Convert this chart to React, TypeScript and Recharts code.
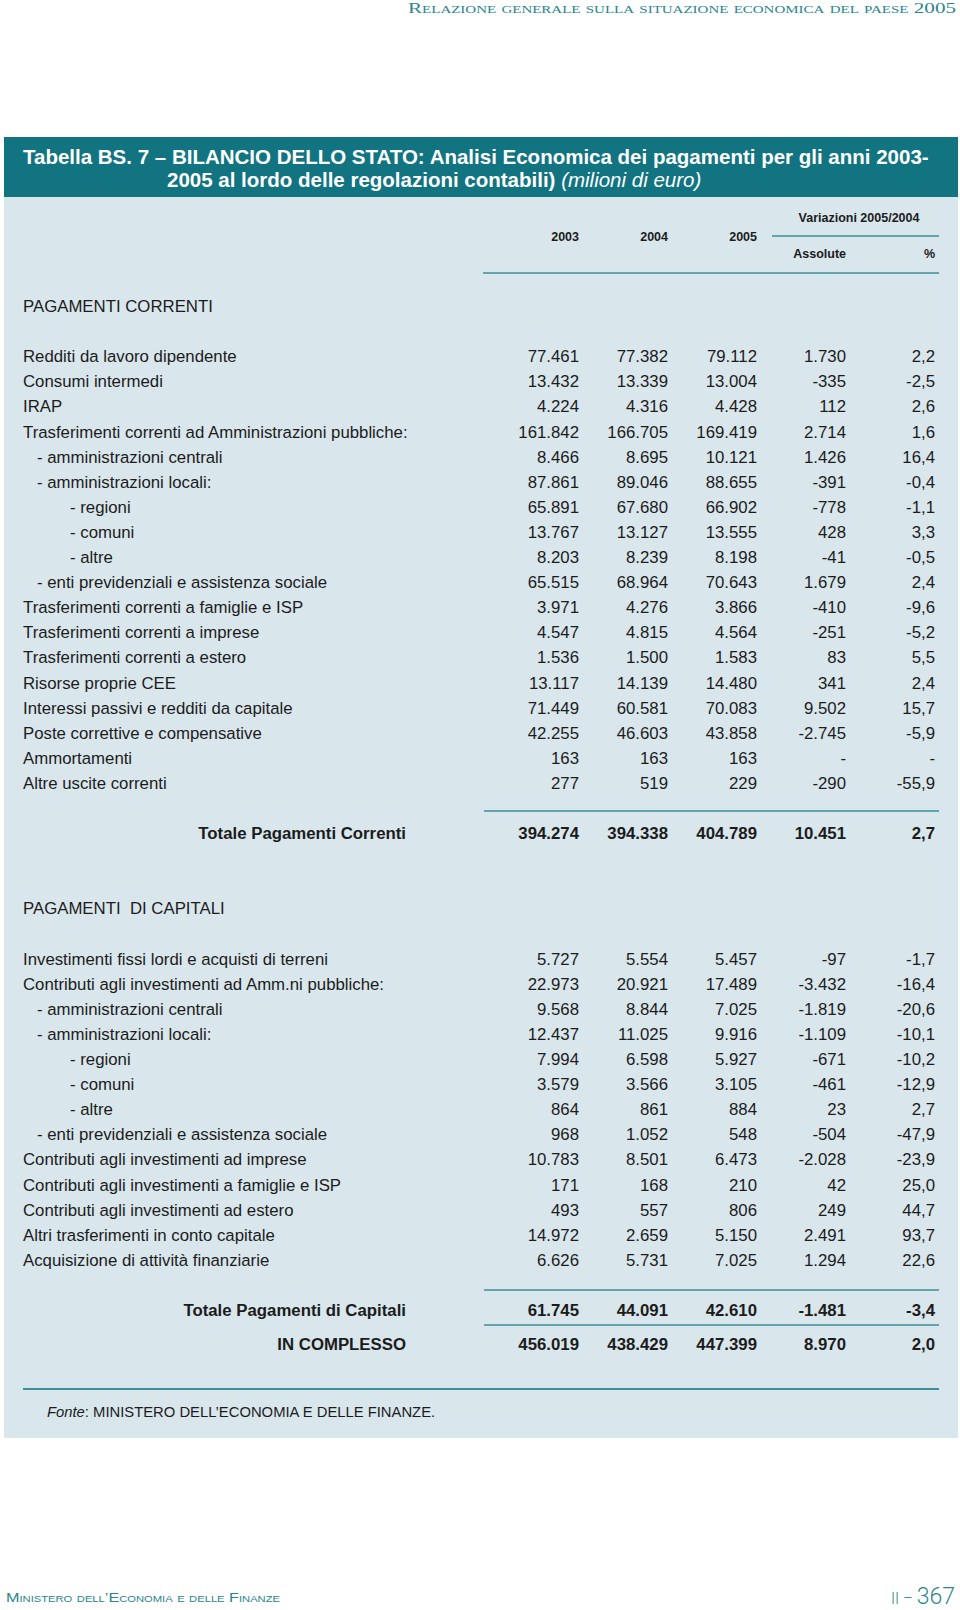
import React from "react";
import { ScatterChart, Scatter, XAxis, YAxis } from "recharts";

// ─── Data ────────────────────────────────────────────────────────────────────

const LABELS = [
  "PAGAMENTI CORRENTI",
  "Redditi da lavoro dipendente",
  "Consumi intermedi",
  "IRAP",
  "Trasferimenti correnti ad Amministrazioni pubbliche:",
  "- amministrazioni centrali",
  "- amministrazioni locali:",
  "- regioni",
  "- comuni",
  "- altre",
  "- enti previdenziali e assistenza sociale",
  "Trasferimenti correnti a famiglie e ISP",
  "Trasferimenti correnti a imprese",
  "Trasferimenti correnti a estero",
  "Risorse proprie CEE",
  "Interessi passivi e redditi da capitale",
  "Poste correttive e compensative",
  "Ammortamenti",
  "Altre uscite correnti",
  "Totale Pagamenti Correnti",
  "PAGAMENTI\u00a0 DI CAPITALI",
  "Investimenti fissi lordi e acquisti di terreni",
  "Contributi agli investimenti ad Amm.ni pubbliche:",
  "- amministrazioni centrali",
  "- amministrazioni locali:",
  "- regioni",
  "- comuni",
  "- altre",
  "- enti previdenziali e assistenza sociale",
  "Contributi agli investimenti ad imprese",
  "Contributi agli investimenti a famiglie e ISP",
  "Contributi agli investimenti ad estero",
  "Altri trasferimenti in conto capitale",
  "Acquisizione di attività finanziarie",
  "Totale Pagamenti di Capitali",
  "IN COMPLESSO",
];

const V2003 = [
  "", "77.461", "13.432", "4.224", "161.842", "8.466", "87.861", "65.891", "13.767", "8.203",
  "65.515", "3.971", "4.547", "1.536", "13.117", "71.449", "42.255", "163", "277", "394.274",
  "", "5.727", "22.973", "9.568", "12.437", "7.994", "3.579", "864", "968", "10.783",
  "171", "493", "14.972", "6.626", "61.745", "456.019",
];

const V2004 = [
  "", "77.382", "13.339", "4.316", "166.705", "8.695", "89.046", "67.680", "13.127", "8.239",
  "68.964", "4.276", "4.815", "1.500", "14.139", "60.581", "46.603", "163", "519", "394.338",
  "", "5.554", "20.921", "8.844", "11.025", "6.598", "3.566", "861", "1.052", "8.501",
  "168", "557", "2.659", "5.731", "44.091", "438.429",
];

const V2005 = [
  "", "79.112", "13.004", "4.428", "169.419", "10.121", "88.655", "66.902", "13.555", "8.198",
  "70.643", "3.866", "4.564", "1.583", "14.480", "70.083", "43.858", "163", "229", "404.789",
  "", "5.457", "17.489", "7.025", "9.916", "5.927", "3.105", "884", "548", "6.473",
  "210", "806", "5.150", "7.025", "42.610", "447.399",
];

const VAR_ABS = [
  "", "1.730", "-335", "112", "2.714", "1.426", "-391", "-778", "428", "-41",
  "1.679", "-410", "-251", "83", "341", "9.502", "-2.745", "-", "-290", "10.451",
  "", "-97", "-3.432", "-1.819", "-1.109", "-671", "-461", "23", "-504", "-2.028",
  "42", "249", "2.491", "1.294", "-1.481", "8.970",
];

const VAR_PCT = [
  "", "2,2", "-2,5", "2,6", "1,6", "16,4", "-0,4", "-1,1", "3,3", "-0,5",
  "2,4", "-9,6", "-5,2", "5,5", "2,4", "15,7", "-5,9", "-", "-55,9", "2,7",
  "", "-1,7", "-16,4", "-20,6", "-10,1", "-10,2", "-12,9", "2,7", "-47,9", "-23,9",
  "25,0", "44,7", "93,7", "22,6", "-3,4", "2,0",
];

const COLUMNS = ["2003", "2004", "2005", "Assolute", "%"];
const SERIES = [V2003, V2004, V2005, VAR_ABS, VAR_PCT];

// row kind and vertical gap (in half rows) before each row
const KIND = [
  "sec", "l0", "l0", "l0", "l0", "l1", "l1", "l2", "l2", "l2",
  "l1", "l0", "l0", "l0", "l0", "l0", "l0", "l0", "l0", "tot",
  "sec", "l0", "l0", "l1", "l1", "l2", "l2", "l2", "l1", "l0",
  "l0", "l0", "l0", "l0", "tot", "tot",
];

const GAP = [
  0, 4, 2, 2, 2, 2, 2, 2, 2, 2,
  2, 2, 2, 2, 2, 2, 2, 2, 2, 4,
  6, 4, 2, 2, 2, 2, 2, 2, 2, 2,
  2, 2, 2, 2, 4, 2.7,
];

// ─── Layout ──────────────────────────────────────────────────────────────────

const SLOTS: number[] = [];
GAP.forEach((g, i) => SLOTS.push((i ? SLOTS[i - 1] : 0) + g));
const MAX_SLOT = SLOTS[SLOTS.length - 1];

const HALF_ROW = 12.55;
const FIRST_ROW_Y = 306;
const X_AXIS_H = 30;
const COL0_RIGHT = 579; // right edge of first number column
const COL4_RIGHT = 935; // right edge of last number column
const COL_W = (COL4_RIGHT - COL0_RIGHT) / 4;
const AREA_LEFT = 100;
const AREA_RIGHT = 955;
const PAD_SLOTS = 2;

// widen the domains so the plot area (and its clip) covers the whole table
const X_DOMAIN = [-(COL0_RIGHT - AREA_LEFT) / COL_W, 4 + (AREA_RIGHT - COL4_RIGHT) / COL_W];
const Y_DOMAIN = [-PAD_SLOTS, MAX_SLOT + PAD_SLOTS];

const TEAL = "#117480";
const TEAL_TEXT = "#2b868d";
const RULE = "#3a8f98";
const BG = "#d9e6ec";
const INK = "#1c1c1c";
const FONT = '"Liberation Sans", Arial, Helvetica, sans-serif';
const SIZE = 16.8;

const INDENT: Record<string, number> = { sec: 23, l0: 23, l1: 37, l2: 70 };
const TOTAL_RIGHT = 406;

// ─── Ticks and cells ─────────────────────────────────────────────────────────

function RowLabel({ y, payload }: any) {
  const i = SLOTS.indexOf(payload.value);
  if (i < 0) return null;
  const total = KIND[i] === "tot";
  return (
    <text
      x={total ? TOTAL_RIGHT : INDENT[KIND[i]]}
      y={y}
      dy="0.36em"
      textAnchor={total ? "end" : "start"}
      fontFamily={FONT}
      fontSize={SIZE}
      fontWeight={total ? 700 : 400}
      fill={INK}
    >
      {LABELS[i]}
    </text>
  );
}

function ColumnHeader({ x, payload }: any) {
  const c = payload.value;
  const lower = c >= 3;
  return (
    <text
      x={x}
      y={lower ? 258 : 241}
      textAnchor="end"
      fontFamily={FONT}
      fontSize={12.5}
      fontWeight={700}
      fill={INK}
    >
      {COLUMNS[c]}
    </text>
  );
}

function Cell(props: any) {
  const { cx, cy, payload } = props;
  return (
    <text
      x={cx}
      y={cy}
      dy="0.36em"
      textAnchor="end"
      fontFamily={FONT}
      fontSize={SIZE}
      fontWeight={payload.bold ? 700 : 400}
      fill={INK}
    >
      {payload.text}
    </text>
  );
}

const cellData = SERIES.map((values, c) =>
  values
    .map((v, i) => ({ col: c, slot: SLOTS[i], text: v, bold: KIND[i] === "tot" }))
    .filter((d) => d.text !== "")
);

// ─── Page ────────────────────────────────────────────────────────────────────

export default function App() {
  const plotTop = FIRST_ROW_Y - PAD_SLOTS * HALF_ROW;
  const plotBottom = FIRST_ROW_Y + (MAX_SLOT + PAD_SLOTS) * HALF_ROW;
  return (
    <div style={{ position: "relative", width: 960, height: 1610, background: "#fff", overflow: "hidden" }}>
      <style>{"body{margin:0}"}</style>

      <svg width={960} height={1610} style={{ position: "absolute", left: 0, top: 0 }}>
        <text
          x={408}
          y={13}
          textLength={548}
          lengthAdjust="spacingAndGlyphs"
          fontFamily='"Liberation Serif", "DejaVu Serif", serif'
          fontSize={15.5}
          fill={TEAL_TEXT}
          style={{ fontVariant: "small-caps" }}
        >
          Relazione generale sulla situazione economica del paese 2005
        </text>

        <rect x={4} y={137} width={954} height={60} fill={TEAL} />
        <rect x={4} y={197} width={954} height={1241} fill={BG} />

        <text x={23} y={164.4} fontFamily={FONT} fontSize={20.5} fontWeight={700} fill="#fff">
          Tabella BS. 7 – BILANCIO DELLO STATO: Analisi Economica dei pagamenti per gli anni 2003-
        </text>
        <text x={167} y={187.4} fontFamily={FONT} fontSize={20.5} fontWeight={700} fill="#fff">
          2005 al lordo delle regolazioni contabili){" "}
          <tspan fontWeight={400} fontStyle="italic">
            (milioni di euro)
          </tspan>
        </text>

        <text x={859} y={221.5} textAnchor="middle" fontFamily={FONT} fontSize={12.5} fontWeight={700} fill={INK}>
          Variazioni 2005/2004
        </text>

        <g stroke={RULE} strokeWidth={1.5}>
          <line x1={772} y1={236} x2={939} y2={236} />
          <line x1={483} y1={273} x2={939} y2={273} />
          <line x1={484} y1={811} x2={939} y2={811} />
          <line x1={484} y1={1290} x2={939} y2={1290} />
          <line x1={484} y1={1325} x2={939} y2={1325} />
          <line x1={23} y1={1389} x2={939} y2={1389} strokeWidth={2} />
        </g>

        <text x={47} y={1417.3} fontFamily={FONT} fontSize={14.8} fill={INK}>
          <tspan fontStyle="italic">Fonte</tspan>: MINISTERO DELL’ECONOMIA E DELLE FINANZE.
        </text>

        <text
          x={6}
          y={1602}
          textLength={274}
          lengthAdjust="spacingAndGlyphs"
          fontFamily={FONT}
          fontSize={13}
          fill={TEAL_TEXT}
          style={{ fontVariant: "small-caps" }}
        >
          Ministero dell’Economia e delle Finanze
        </text>
        <text
          x={891}
          y={1604}
          textLength={64}
          lengthAdjust="spacingAndGlyphs"
          fontFamily='Roboto, "Liberation Sans", sans-serif'
          fontWeight={300}
          fill={TEAL_TEXT}
        >
          <tspan fontSize={16}>II – </tspan>
          <tspan fontSize={24}>367</tspan>
        </text>
      </svg>

      <div style={{ position: "absolute", left: 0, top: 0 }}>
        <ScatterChart
          width={960}
          height={1610}
          margin={{
            top: plotTop - X_AXIS_H,
            right: 960 - AREA_RIGHT,
            bottom: 1610 - plotBottom,
            left: 0,
          }}
        >
          <XAxis
            xAxisId={0}
            type="number"
            dataKey="col"
            orientation="top"
            height={X_AXIS_H}
            domain={X_DOMAIN}
            ticks={COLUMNS.map((_, i) => i)}
            interval={0}
            allowDataOverflow
            axisLine={false}
            tickLine={false}
            tick={(p: any) => <ColumnHeader {...p} />}
          />
          <YAxis
            yAxisId={0}
            type="number"
            dataKey="slot"
            width={AREA_LEFT}
            domain={Y_DOMAIN}
            reversed
            ticks={SLOTS}
            interval={0}
            allowDataOverflow
            axisLine={false}
            tickLine={false}
            tick={(p: any) => <RowLabel {...p} />}
          />
          {cellData.map((data, c) => (
            <Scatter
              key={COLUMNS[c]}
              name={COLUMNS[c]}
              data={data}
              shape={(p: any) => <Cell {...p} />}
              isAnimationActive={false}
            />
          ))}
        </ScatterChart>
      </div>
    </div>
  );
}
